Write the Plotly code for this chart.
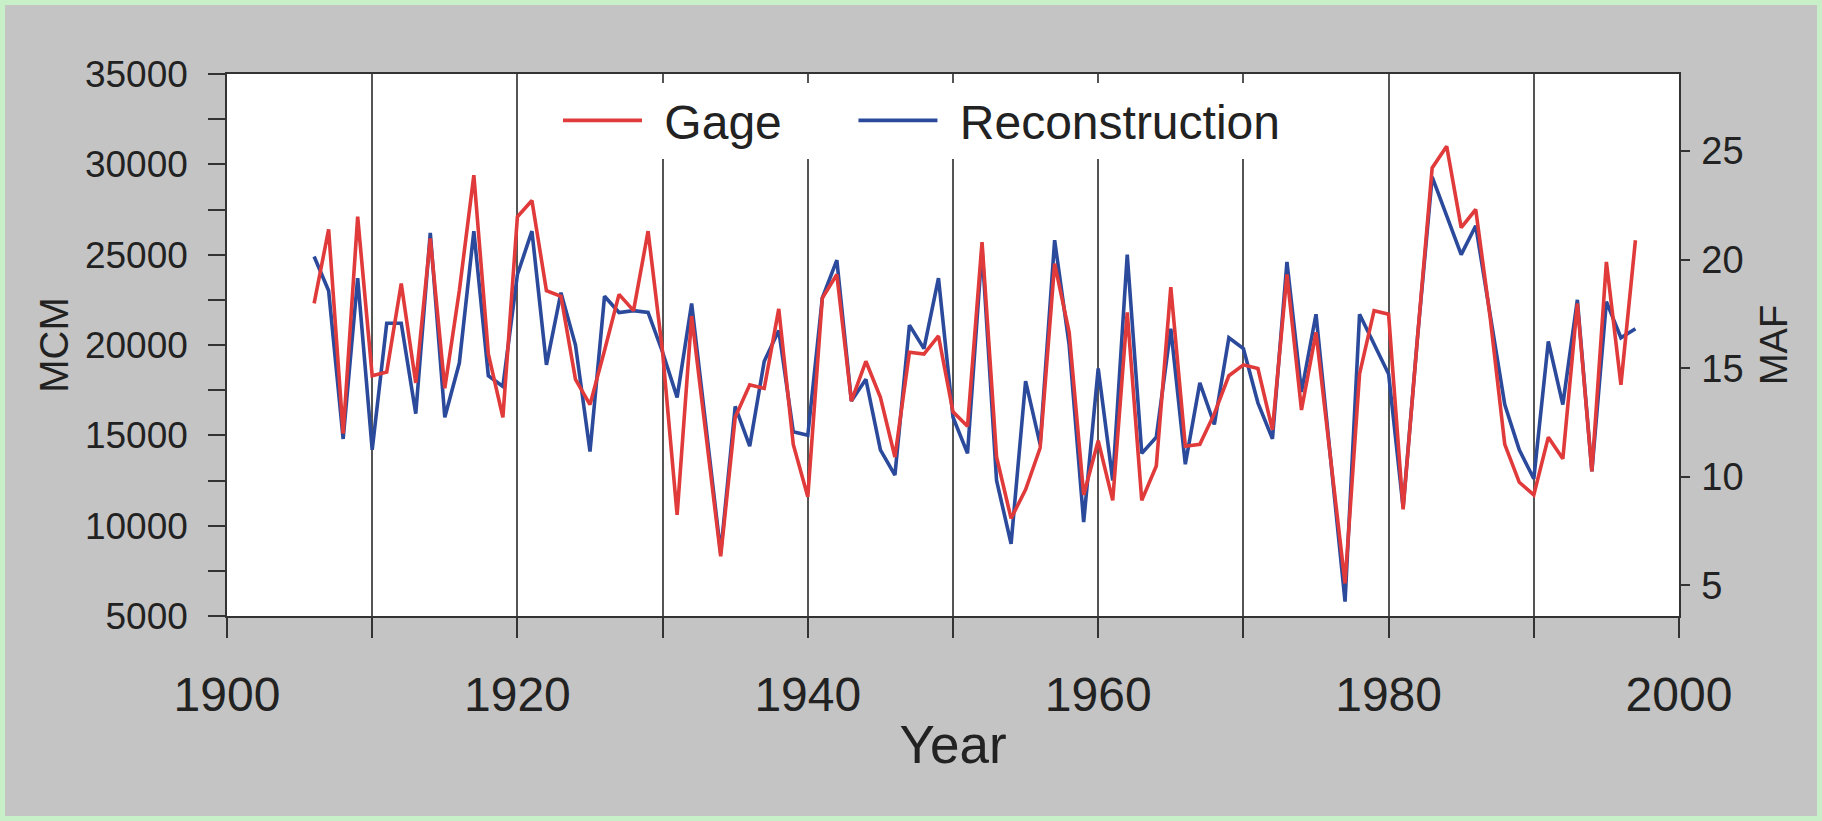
import plotly.graph_objects as go

years = list(range(1906, 1998))

gage = [22300, 26400, 15100, 27100, 18300, 18500, 23400, 17900, 25900, 17600,
        23000, 29400, 19500, 16000, 27100, 28000, 23000, 22700, 18100, 16700,
        19700, 22800, 21900, 26300, 19600, 10600, 21600, 15000, 8300, 16000,
        17800, 17600, 22000, 14500, 11600, 22600, 23900, 16900, 19100, 17100,
        13800, 19600, 19500, 20500, 16300, 15500, 25700, 13800, 10400, 12000,
        14300, 24500, 20700, 11700, 14700, 11400, 21800, 11400, 13300, 23200,
        14400, 14500, 16200, 18300, 18900, 18700, 15300, 23900, 16400, 20700,
        13800, 6800, 18400, 21900, 21700, 10900, 20500, 29800, 31000, 26500,
        27500, 21500, 14500, 12400, 11700, 14900, 13700, 22300, 13000, 24600,
        17800, 25800]

reconstruction = [24900, 23000, 14800, 23700, 14200, 21200, 21200, 16200, 26200, 16000,
                  19000, 26300, 18300, 17700, 23900, 26300, 18900, 22900, 20000, 14100,
                  22700, 21800, 21900, 21800, 19600, 17100, 22300, 15500, 8500, 16600,
                  14400, 19100, 20800, 15200, 15000, 22600, 24700, 16900, 18100, 14200,
                  12800, 21100, 19800, 23700, 16000, 14000, 25300, 12500, 9000, 18000,
                  14500, 25800, 20000, 10200, 18700, 12500, 25000, 14000, 14900, 20900,
                  13400, 17900, 15600, 20400, 19800, 16800, 14800, 24600, 17400, 21700,
                  13500, 5800, 21700, 20000, 18400, 11000, 20500, 29300, 27200, 25000,
                  26600, 21500, 16700, 14200, 12600, 20200, 16700, 22500, 13000, 22400,
                  20400, 20900]

x_tickvals = [1900, 1920, 1940, 1960, 1980, 2000]
y_tickvals = [5000, 10000, 15000, 20000, 25000, 30000, 35000]
maf_tickvals = [5, 10, 15, 20, 25]

RED = "#e03a3a"
BLUE = "#2b4a9c"
FONT = "Liberation Sans, Arial, sans-serif"
TXT = "#222222"
LEAD = "\u00a0\u200a"
PAD = "\u00a0" * 5

fig = go.Figure()
fig.add_trace(go.Scatter(x=years, y=reconstruction, mode="lines", name=LEAD + "Reconstruction",
                         line=dict(color=BLUE, width=3.6), legendrank=2))
fig.add_trace(go.Scatter(x=years, y=gage, mode="lines", name=LEAD + "Gage" + PAD,
                         line=dict(color=RED, width=3.6), legendrank=1))
# invisible trace to activate the MAF axis
fig.add_trace(go.Scatter(x=[None], y=[None], yaxis="y2", showlegend=False, hoverinfo="skip"))

fig.update_layout(
    width=1822, height=821,
    margin=dict(l=227, r=143, t=74, b=205),
    paper_bgcolor="#c4c4c4",
    plot_bgcolor="white",
    font=dict(family=FONT, color=TXT),
    showlegend=True,
    legend=dict(orientation="h", x=(558 - 227) / 1452, xanchor="left", y=0.984, yanchor="top",
                bgcolor="white", font=dict(size=48, color=TXT), itemwidth=79),
    xaxis=dict(range=[1900, 2000], tickvals=x_tickvals, ticks="outside", ticklen=20,
               tickwidth=1.5, tickcolor="#333", tickfont=dict(size=48),
               showline=True, linecolor="#333", linewidth=1.5, mirror=True,
               showgrid=True, gridcolor="#555", gridwidth=1.5, zeroline=False,
               minor=dict(dtick=10, tick0=1900, ticks="outside", ticklen=20, tickwidth=1.5,
                          tickcolor="#333", showgrid=True, gridcolor="#555", gridwidth=1.5),
               title=dict(text="Year", font=dict(size=53), standoff=6),
               ticklabelstandoff=16),
    yaxis=dict(range=[5000, 35000], tickvals=y_tickvals, tickformat="d",
               ticks="outside", ticklen=17,
               tickwidth=1.5, tickcolor="#333", tickfont=dict(size=37),
               showline=True, linecolor="#333", linewidth=1.5, showgrid=False,
               zeroline=False,
               minor=dict(dtick=2500, tick0=5000, ticks="outside", ticklen=17, tickwidth=1.5,
                          tickcolor="#333", showgrid=False),
               title=dict(text="MCM", font=dict(size=40), standoff=4),
               ticklabelstandoff=13),
    yaxis2=dict(overlaying="y", side="right", range=[3.59, 28.55], tickvals=maf_tickvals,
                ticks="outside", ticklen=9, tickwidth=1.5, tickcolor="#333",
                tickfont=dict(size=38), showline=True, linecolor="#333", linewidth=1.5,
                showgrid=False, zeroline=False,
                title=dict(text="MAF", font=dict(size=38), standoff=18),
                ticklabelstandoff=4),
    shapes=[dict(type="rect", xref="paper", yref="paper",
                 x0=(2.5 - 227) / 1452, x1=(1819.5 - 227) / 1452,
                 y0=(616 - 818.5) / 542, y1=(616 - 2.5) / 542,
                 line=dict(color="#c8f0c8", width=5), fillcolor="rgba(0,0,0,0)",
                 layer="above")],
)

fig.write_html("out.html")
